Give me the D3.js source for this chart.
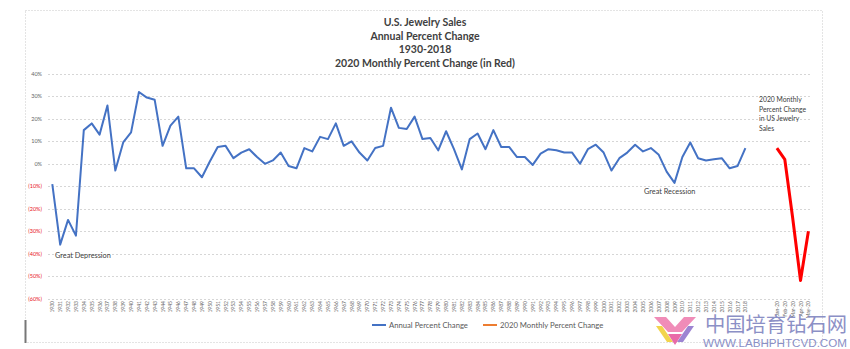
<!DOCTYPE html>
<html>
<head>
<meta charset="utf-8">
<script src="https://cdn.jsdelivr.net/npm/d3@7"></script>
<style>
  body { margin: 0; background: #fff; }
  svg { display: block; font-family: Lato, "Liberation Sans", sans-serif; }
</style>
</head>
<body>
<div id="chart"></div>
<script>
// data
var years = d3.range(1930, 2019).map(String);
var annualChange = [
  -9, -36, -25, -32, 15, 18, 13, 26, -3, 9.5,
  14, 32, 29.5, 28.5, 8, 17, 21, -2, -2, -6,
  1, 7.5, 8, 2.5, 5, 6.5, 3, 0, 1.5, 5,
  -1, -2, 7, 5.5, 12, 11, 18, 8, 10, 5,
  1.5, 7, 8, 25, 16, 15.5, 21, 11, 11.5, 6,
  14.5, 6.5, -2.5, 11, 13.5, 6.5, 15, 7.5, 7.5, 3,
  3, -0.5, 4.5, 6.5, 6, 5, 5, 0, 6.5, 8.5,
  5, -3, 2.5, 5, 8.5, 5.5, 7, 4, -3.5, -8.5,
  3, 9.5, 2.5, 1.5, 2, 2.5, -2, -1, 7
];
var months = ["Jan-20", "Feb-20", "Mar-20", "Apr-20", "May-20"];
var monthlyChange = [7, 2, -24, -52, -30];
var gapSlots = ["", " ", "  "];   // empty categories between 2018 and 2020
var yTicks = [40, 30, 20, 10, 0, -10, -20, -30, -40, -50, -60];
var titleLines = ["U.S. Jewelry Sales", "Annual Percent Change", "1930-2018", "2020 Monthly Percent Change (in Red)"];

var W = 850, H = 349;
var svg = d3.select("#chart").append("svg").attr("width", W).attr("height", H);

// chart border (dotted, like the Excel chart area)
svg.append("rect")
  .attr("x", 25.5).attr("y", 10.5).attr("width", 797).attr("height", 332)
  .attr("fill", "none").attr("stroke", "#c8c8c8").attr("stroke-dasharray", "1,2");
svg.append("line")
  .attr("x1", 25.5).attr("x2", 25.5).attr("y1", 320).attr("y2", 343)
  .attr("stroke", "#777").attr("stroke-width", 2);

var x = d3.scalePoint()
  .domain(years.concat(gapSlots, months))
  .range([52.3, 808.4]);
var y = d3.scaleLinear().domain([-60, 40]).range([298.5, 74]);

// grid lines
svg.append("g").selectAll("line").data(yTicks).join("line")
  .attr("x1", 48).attr("x2", 812)
  .attr("y1", d => Math.round(y(d)) + 0.5).attr("y2", d => Math.round(y(d)) + 0.5)
  .attr("stroke", "#d6d6d6").attr("stroke-dasharray", "2,2");

// y labels: negatives in red with parentheses
svg.append("g").selectAll("text").data(yTicks).join("text")
  .attr("x", 42).attr("y", d => y(d) + 2)
  .attr("text-anchor", "end")
  .attr("font-size", 5.5)
  .attr("fill", d => d < 0 ? "#e8141b" : "#666")
  .text(d => d < 0 ? "(" + Math.abs(d) + "%)" : d + "%");

// x labels, rotated
var xLabels = years.concat(months);
svg.append("g").selectAll("text").data(xLabels).join("text")
  .attr("transform", d => "translate(" + (x(d) + 2) + ",301) rotate(-90)")
  .attr("text-anchor", "end")
  .attr("font-size", 5)
  .attr("fill", "#666")
  .text(d => d);

// annual series
var line = d3.line().x(d => x(d[0])).y(d => y(d[1]));
svg.append("path")
  .datum(d3.zip(years, annualChange))
  .attr("d", line)
  .attr("fill", "none").attr("stroke", "#4472c4").attr("stroke-width", 2)
  .attr("stroke-linejoin", "round");

// 2020 monthly series
svg.append("path")
  .datum(d3.zip(months, monthlyChange))
  .attr("d", line)
  .attr("fill", "none").attr("stroke", "#ff0000").attr("stroke-width", 3)
  .attr("stroke-linejoin", "round");

// title
svg.append("g").selectAll("text").data(titleLines).join("text")
  .attr("x", 425).attr("y", (d, i) => 26 + i * 13.5)
  .attr("text-anchor", "middle")
  .attr("font-size", 10.5).attr("font-weight", "bold")
  .attr("fill", "#404040")
  .text(d => d);

// annotations
svg.append("text").attr("x", 55).attr("y", 258)
  .attr("font-size", 7.3).attr("fill", "#404040").text("Great Depression");
svg.append("text").attr("x", 644).attr("y", 194)
  .attr("font-size", 7.3).attr("fill", "#404040").text("Great Recession");
svg.append("g").selectAll("text")
  .data(["2020 Monthly", "Percent Change", "in US Jewelry", "Sales"]).join("text")
  .attr("x", 759).attr("y", (d, i) => 102 + i * 9.7)
  .attr("font-size", 6.8).attr("fill", "#404040")
  .text(d => d);

// legend
var legend = [
  {name: "Annual Percent Change", color: "#4472c4", x: 372},
  {name: "2020 Monthly Percent Change", color: "#ed7d31", x: 483}
];
var lg = svg.append("g").selectAll("g").data(legend).join("g")
  .attr("transform", d => "translate(" + d.x + ",325)");
lg.append("line").attr("x1", 0).attr("x2", 14)
  .attr("stroke", d => d.color).attr("stroke-width", 2);
lg.append("text").attr("x", 17).attr("y", 2.5)
  .attr("font-size", 7.7).attr("fill", "#595959")
  .text(d => d.name);

// watermark in the corner (logo + site name)
var wm = svg.append("g");
wm.append("path").attr("d", "M654,317 L666,317 L675,327 L684,317 L696,317 L682,332 L668,332 Z")
  .attr("fill", "#f08cb8");
wm.append("path").attr("d", "M656,326 L662,326 L673,342 L667,342 Z").attr("fill", "#f2d44c");
wm.append("path").attr("d", "M688,326 L694,326 L683,342 L677,342 Z").attr("fill", "#9d84d2");
wm.append("path").attr("d", "M668,334 L682,334 L675,345 Z").attr("fill", "#e96aa8");
wm.append("text").attr("x", 705).attr("y", 332)
  .attr("font-family", "'Noto Sans CJK SC'").attr("font-size", 20)
  .attr("textLength", 142).attr("lengthAdjust", "spacingAndGlyphs")
  .attr("fill", "#7f84c0").attr("opacity", 0.9)
  .text("中国培育钻石网");
wm.append("text").attr("x", 703).attr("y", 347)
  .attr("font-family", "'Liberation Sans', sans-serif").attr("font-size", 10.5)
  .attr("textLength", 144).attr("lengthAdjust", "spacingAndGlyphs")
  .attr("fill", "#8a8fc6")
  .text("WWW.LABHPHTCVD.COM");
</script>
</body>
</html>
